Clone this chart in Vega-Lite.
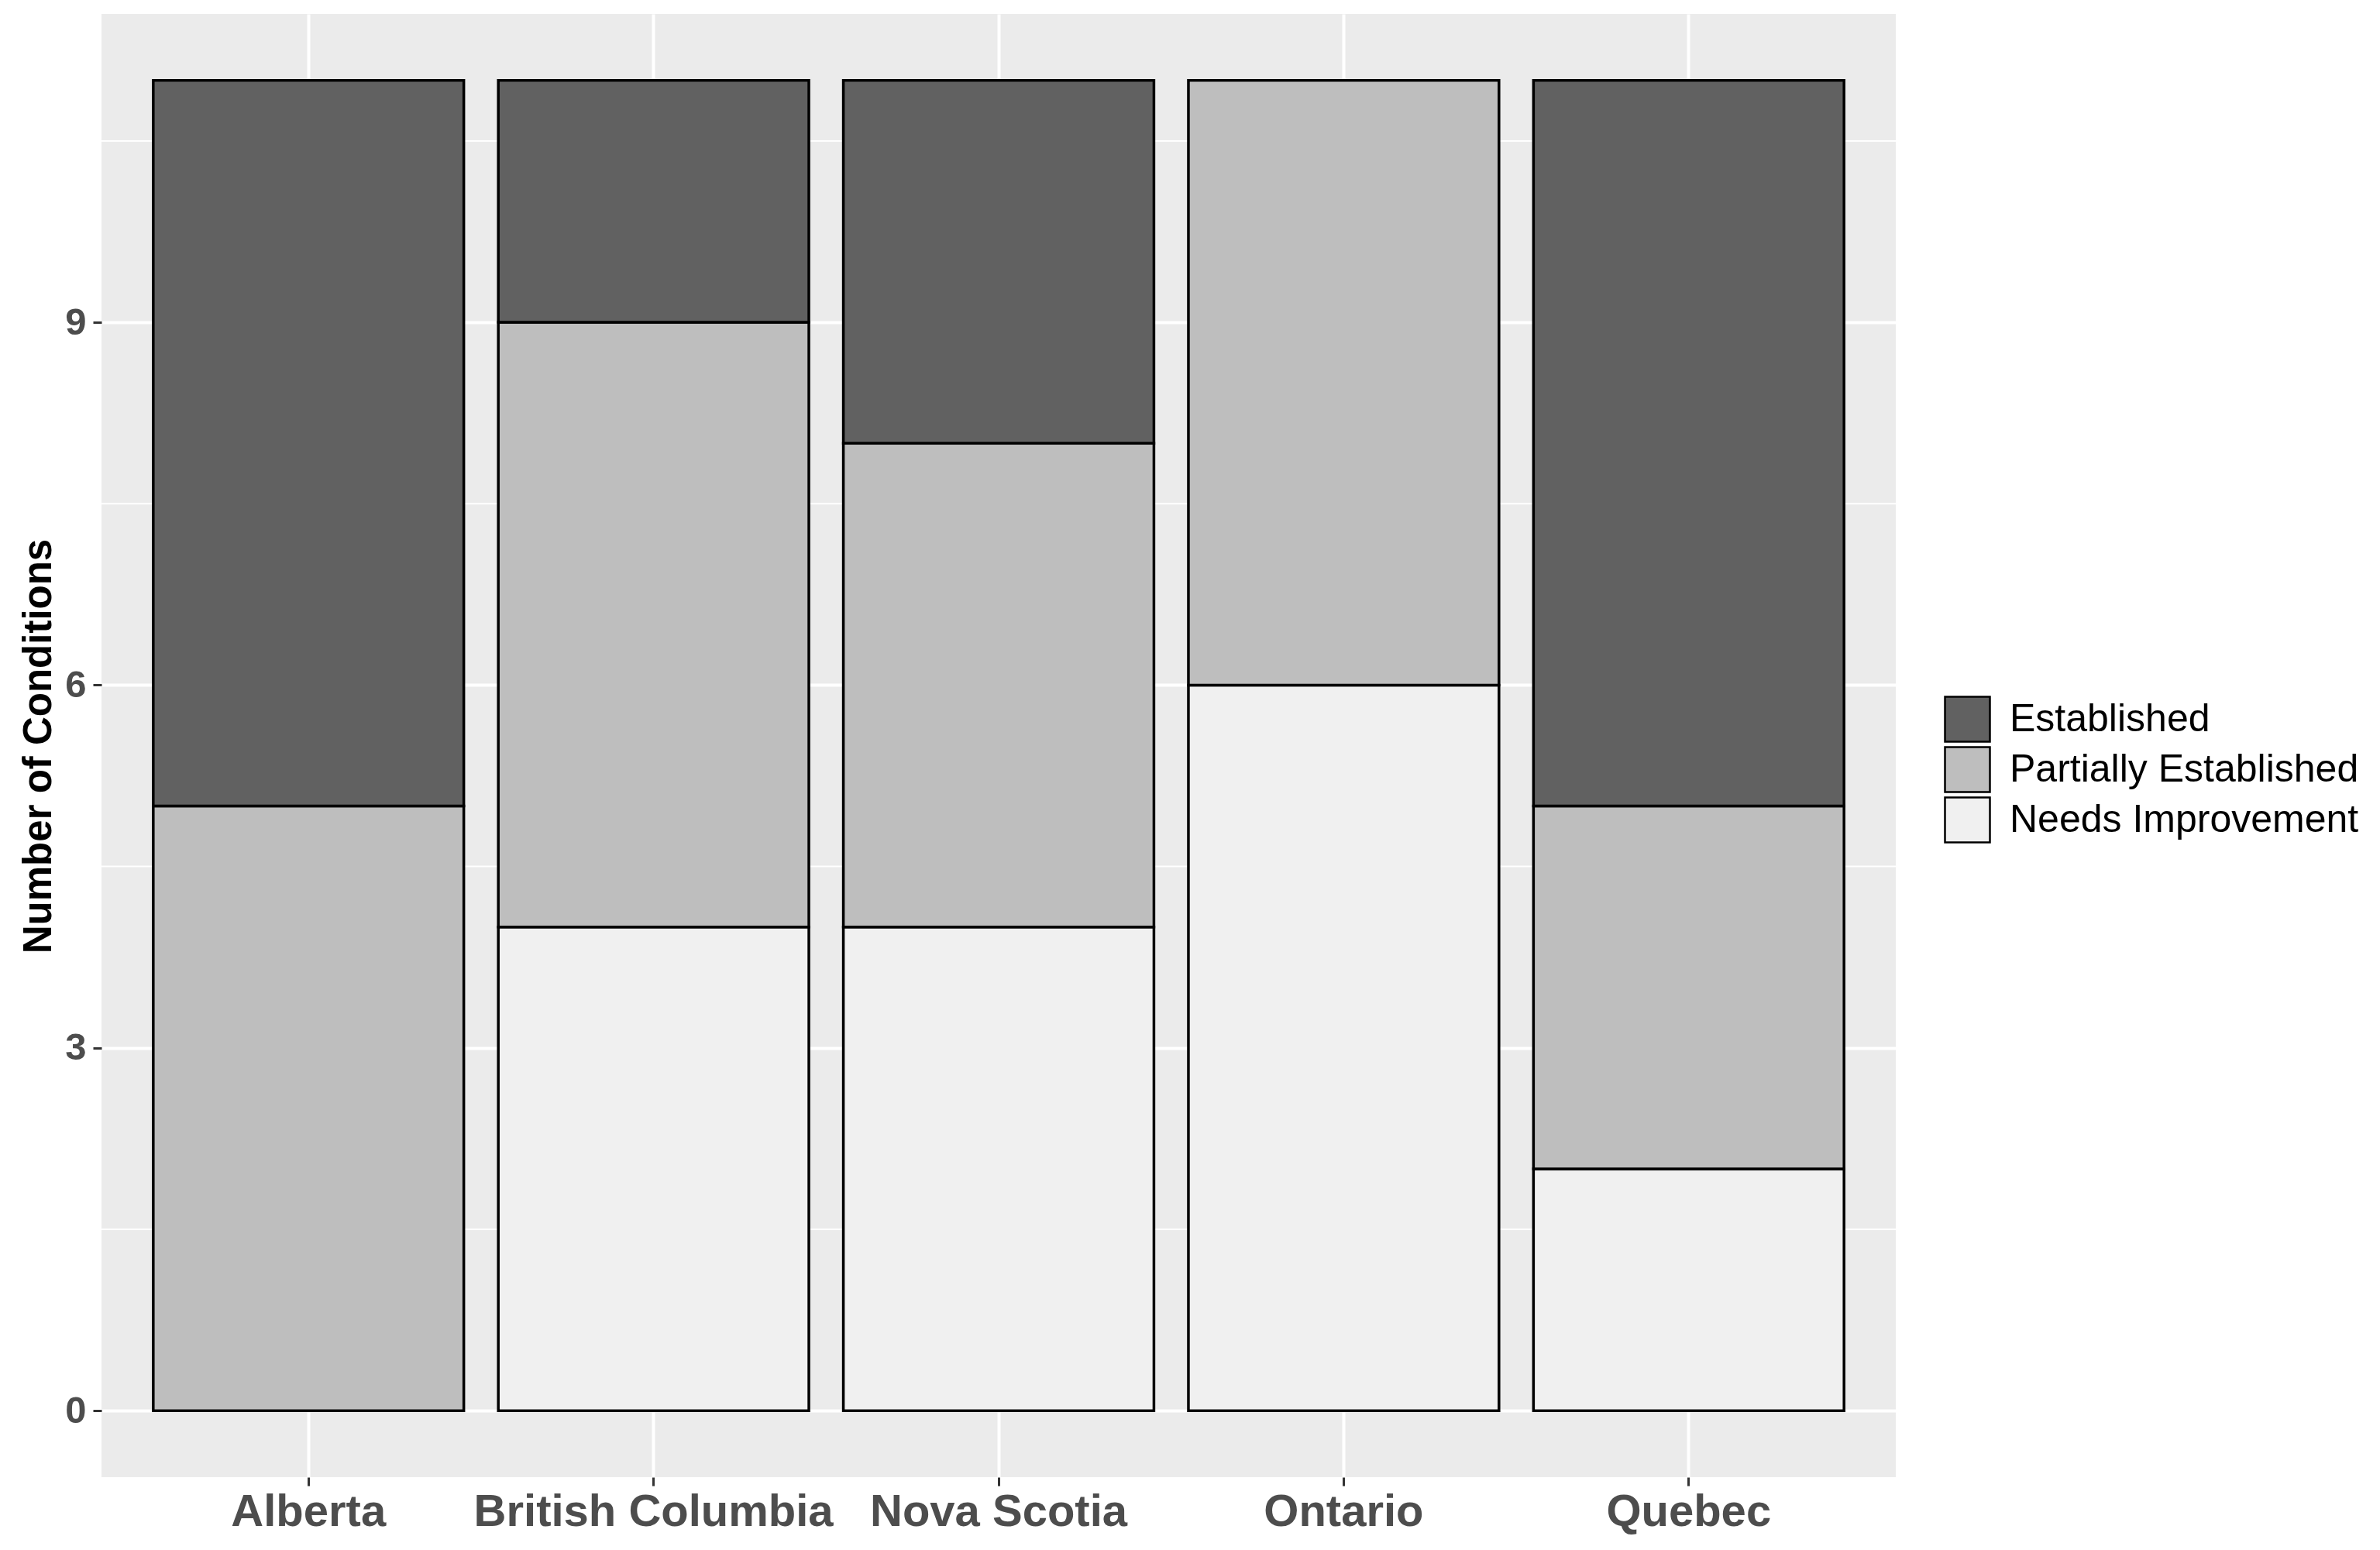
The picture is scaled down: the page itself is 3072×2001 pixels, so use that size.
{
  "$schema": "https://vega.github.io/schema/vega-lite/v6.json",
  "autosize": "none",
  "width": 2316,
  "height": 1889,
  "padding": {"left": 131, "top": 18, "right": 625, "bottom": 94},
  "background": "white",
  "config": {
    "view": {"fill": "#EBEBEB", "stroke": null},
    "font": "Liberation Sans"
  },
  "datasets": {
    "counts": [
      {"province": "Alberta", "status": "Partially Established", "count": 5},
      {"province": "Alberta", "status": "Established", "count": 6},
      {"province": "British Columbia", "status": "Needs Improvement", "count": 4},
      {"province": "British Columbia", "status": "Partially Established", "count": 5},
      {"province": "British Columbia", "status": "Established", "count": 2},
      {"province": "Nova Scotia", "status": "Needs Improvement", "count": 4},
      {"province": "Nova Scotia", "status": "Partially Established", "count": 4},
      {"province": "Nova Scotia", "status": "Established", "count": 3},
      {"province": "Ontario", "status": "Needs Improvement", "count": 6},
      {"province": "Ontario", "status": "Partially Established", "count": 5},
      {"province": "Quebec", "status": "Needs Improvement", "count": 2},
      {"province": "Quebec", "status": "Partially Established", "count": 3},
      {"province": "Quebec", "status": "Established", "count": 6}
    ],
    "minor": [{"v": 1.5}, {"v": 4.5}, {"v": 7.5}, {"v": 10.5}]
  },
  "layer": [
    {
      "data": {"name": "minor"},
      "mark": {"type": "rule", "color": "white", "strokeWidth": 2},
      "encoding": {
        "y": {"field": "v", "type": "quantitative",
              "scale": {"domain": [-0.55, 11.55], "nice": false, "zero": false},
              "axis": {
                "values": [0, 3, 6, 9], "title": "Number of Conditions",
                "titleFontSize": 51, "titleFontWeight": "bold", "titleColor": "black",
                "titleX": -66, "titleY": 945, "titleBaseline": "alphabetic", "titleAlign": "center", "titleAngle": -90,
                "labelFontSize": 49, "labelFontWeight": "bold", "labelColor": "#4D4D4D", "labelPadding": 9,
                "tickSize": 11, "tickColor": "#333333", "tickWidth": 3, "domain": false,
                "grid": true, "gridColor": "white", "gridWidth": 4
              }}
      }
    },
    {
      "data": {"name": "counts"},
      "transform": [
        {"calculate": "indexof(['Needs Improvement','Partially Established','Established'], datum.status)", "as": "ord"}
      ],
      "mark": {"type": "bar", "stroke": "black", "strokeWidth": 3.5},
      "encoding": {
        "x": {
          "field": "province", "type": "nominal",
          "scale": {"type": "band", "paddingInner": 0.1, "paddingOuter": 0.15},
          "axis": {
            "title": null, "labelAngle": 0, "labelFontSize": 58, "labelFontWeight": "bold",
            "labelColor": "#4D4D4D", "labelPadding": 5, "tickSize": 11, "tickColor": "#333333",
            "tickWidth": 3, "domain": false, "grid": true, "gridColor": "white", "gridWidth": 4,
            "bandPosition": 0.5, "labelLimit": 0
          }
        },
        "y": {
          "field": "count", "type": "quantitative", "stack": "zero",
          "scale": {"domain": [-0.55, 11.55], "nice": false, "zero": false},
          "axis": {
            "values": [0, 3, 6, 9], "title": "Number of Conditions",
            "titleFontSize": 51, "titleFontWeight": "bold", "titleColor": "black",
            "titleX": -66, "titleY": 945, "titleBaseline": "alphabetic", "titleAlign": "center", "titleAngle": -90,
            "labelFontSize": 49, "labelFontWeight": "bold", "labelColor": "#4D4D4D", "labelPadding": 9,
            "tickSize": 11, "tickColor": "#333333", "tickWidth": 3, "domain": false,
            "grid": true, "gridColor": "white", "gridWidth": 4
          }
        },
        "color": {
          "field": "status", "type": "nominal",
          "scale": {
            "domain": ["Established", "Partially Established", "Needs Improvement"],
            "range": ["#616161", "#BEBEBE", "#F0F0F0"]
          },
          "legend": {
            "title": null, "orient": "none", "legendX": 2378, "legendY": 880,
            "symbolType": "square", "symbolSize": 3364, "symbolStrokeColor": "black",
            "symbolStrokeWidth": 2.5, "symbolOpacity": 1, "labelFontSize": 50, "labelColor": "black",
            "labelOffset": 24, "rowPadding": -5, "labelLimit": 0, "padding": 0
          }
        },
        "order": {"field": "ord", "type": "quantitative", "sort": "ascending"}
      }
    }
  ]
}
